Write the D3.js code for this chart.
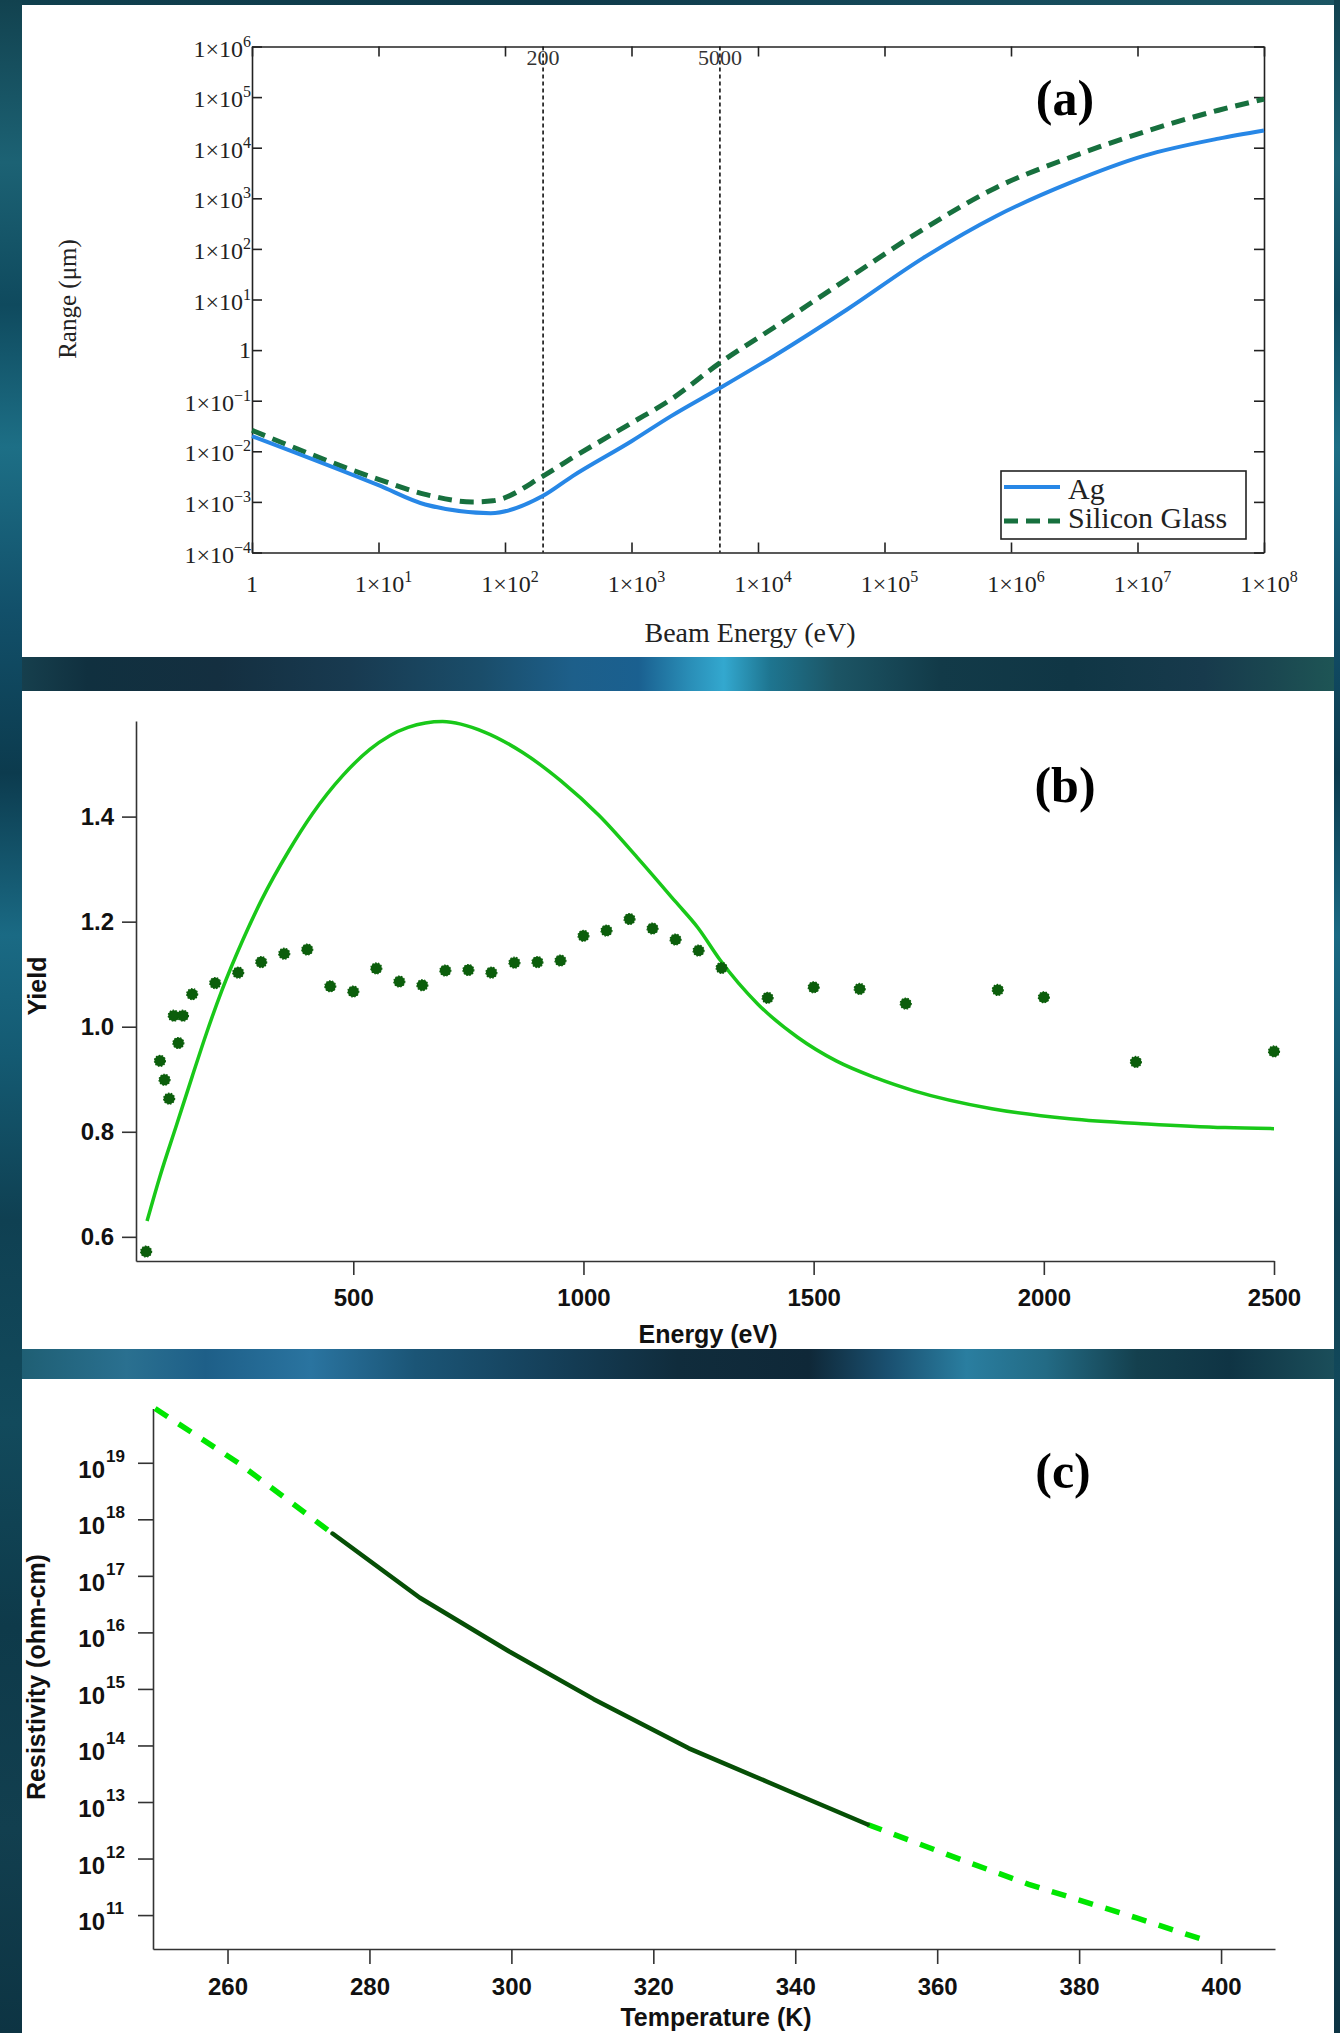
<!DOCTYPE html>
<html>
<head>
<meta charset="utf-8">
<title>Range, yield and resistivity</title>
<script src="https://cdn.jsdelivr.net/npm/d3@7"></script>
<style>
  body { margin: 0; background: #0f3645; }
  svg { display: block; }
</style>
</head>
<body>
<script>
"use strict";

// ---- (a) electron range vs beam energy ----
var agEnergy    = [1, 10, 23.4, 77, 200, 340, 1000, 2040, 5000, 13400, 51300, 2.0e5, 7.6e5, 2.95e6, 1.12e7, 4.37e7, 1e8];
var agRange     = [0.020, 0.00214, 8.9e-4, 6.0e-4, 1.32e-3, 3.2e-3, 0.0158, 0.049, 0.178, 0.767, 6.5, 65, 443, 2040, 6900, 15100, 21900];
var glassEnergy = [1, 10, 23.4, 55, 80, 200, 340, 1000, 2040, 5000, 13400, 51300, 2.0e5, 7.6e5, 2.95e6, 1.12e7, 4.37e7, 1e8];
var glassRange  = [0.026, 0.00279, 0.00141, 0.00100, 0.00105, 0.00324, 0.0074, 0.0363, 0.105, 0.56, 2.8, 26, 240, 1620, 6460, 20400, 55000, 91000];
var refEnergies = [200, 5000];
var rangeTicksX = [1, 1e1, 1e2, 1e3, 1e4, 1e5, 1e6, 1e7, 1e8];
var rangeTicksY = [1e-4, 1e-3, 1e-2, 1e-1, 1, 1e1, 1e2, 1e3, 1e4, 1e5, 1e6];
var legendNames = ["Ag", "Silicon Glass"];

// ---- (b) yield vs energy ----
var fitEnergy = [52, 80, 115, 150, 182, 215, 260, 300, 360, 411, 477, 536, 619, 694, 785, 868, 951, 1034, 1117, 1200, 1249, 1296, 1380, 1465, 1549, 1634, 1718, 1887, 2056, 2225, 2394, 2500];
var fitYield  = [0.630, 0.715, 0.810, 0.905, 0.990, 1.070, 1.165, 1.240, 1.335, 1.405, 1.478, 1.528, 1.570, 1.581, 1.561, 1.522, 1.468, 1.402, 1.322, 1.238, 1.188, 1.128, 1.042, 0.980, 0.935, 0.903, 0.878, 0.844, 0.825, 0.815, 0.808, 0.806];
var measEnergy = [50, 80, 90, 100, 110, 120, 130, 150, 200, 250, 300, 350, 400, 450, 500, 550, 600, 650, 700, 750, 800, 850, 900, 950, 1000, 1050, 1100, 1150, 1200, 1250, 1300, 1400, 1500, 1600, 1700, 1900, 2000, 2200, 2500];
var measYield  = [0.572, 0.935, 0.899, 0.863, 1.021, 0.969, 1.021, 1.062, 1.083, 1.103, 1.123, 1.139, 1.147, 1.077, 1.067, 1.111, 1.086, 1.079, 1.107, 1.108, 1.103, 1.122, 1.123, 1.126, 1.173, 1.183, 1.205, 1.187, 1.166, 1.145, 1.112, 1.055, 1.075, 1.072, 1.044, 1.070, 1.056, 0.933, 0.953];
var yieldTicksX = [500, 1000, 1500, 2000, 2500];
var yieldTicksY = [0.6, 0.8, 1.0, 1.2, 1.4];

// ---- (c) resistivity vs temperature ----
var tempLow   = [249.8, 261.5, 274.8];
var rhoLow    = [9.1e19, 1.0e19, 5.6e17];
var tempMeas  = [274.8, 287.1, 299.7, 311.6, 325.0, 340.0, 350.2];
var rhoMeas   = [5.6e17, 4.1e16, 4.6e15, 6.6e14, 8.9e13, 1.4e13, 4.0e12];
var tempHigh  = [350.2, 363.6, 372.9, 388.1, 397.4];
var rhoHigh   = [4.0e12, 9.3e11, 3.5e11, 8.9e10, 3.7e10];
var tempTicks = [260, 280, 300, 320, 340, 360, 380, 400];
var rhoTicks  = [1e11, 1e12, 1e13, 1e14, 1e15, 1e16, 1e17, 1e18, 1e19];

var SERIF = "'Liberation Serif', 'Times New Roman', serif";
var SANS = "'Liberation Sans', Arial, sans-serif";

var svg = d3.select("body").append("svg")
  .attr("width", 1340)
  .attr("height", 2033);

// ---------- background ----------
var defs = svg.append("defs");
function gradient(id, vertical, stops) {
  var g = defs.append("linearGradient").attr("id", id)
    .attr("x1", 0).attr("y1", 0)
    .attr("x2", vertical ? 0 : 1).attr("y2", vertical ? 1 : 0);
  stops.forEach(function(s) {
    g.append("stop").attr("offset", s[0]).attr("stop-color", s[1]);
  });
}
gradient("side", true, [[0, "#12424f"], [0.08, "#1c6274"], [0.15, "#0f4a5e"], [0.22, "#1d6f86"], [0.3, "#12506a"],
  [0.38, "#0c3b4e"], [0.46, "#1a6a84"], [0.52, "#145a72"], [0.6, "#0f4052"], [0.7, "#124a5c"], [0.8, "#0e3a4a"], [0.9, "#123f4f"], [1, "#0d3443"]]);
gradient("band1", false, [[0, "#163f4d"], [0.05, "#10303f"], [0.15, "#142f40"], [0.25, "#183a50"], [0.35, "#1a4d6a"],
  [0.42, "#1d5f8a"], [0.47, "#1a6090"], [0.51, "#2a8fb8"], [0.535, "#33a8cf"], [0.57, "#1e7590"], [0.62, "#1c5565"],
  [0.7, "#123a48"], [0.8, "#103645"], [0.9, "#173a4c"], [0.95, "#1a4650"], [1, "#1e5555"]]);
gradient("band2", false, [[0, "#1f5f74"], [0.08, "#2a7090"], [0.14, "#1e5f88"], [0.22, "#2a74a0"], [0.3, "#1b5576"],
  [0.4, "#15405a"], [0.5, "#102c3c"], [0.6, "#0f2838"], [0.66, "#1a5070"], [0.72, "#2a7ea0"], [0.78, "#236b85"],
  [0.85, "#14404e"], [0.92, "#0f3444"], [1, "#1b4e5a"]]);
gradient("top", false, [[0, "#10404e"], [0.4, "#0f3a4a"], [0.7, "#15495a"], [1, "#1b5563"]]);

svg.append("rect").attr("width", 1340).attr("height", 2033).attr("fill", "#0f3645");
svg.append("rect").attr("width", 22).attr("height", 2033).attr("fill", "url(#side)");
svg.append("rect").attr("x", 1334).attr("width", 6).attr("height", 2033).attr("fill", "url(#side)");
svg.append("rect").attr("x", 22).attr("width", 1312).attr("height", 5).attr("fill", "url(#top)");
svg.append("rect").attr("x", 22).attr("y", 657).attr("width", 1312).attr("height", 34).attr("fill", "url(#band1)");
svg.append("rect").attr("x", 22).attr("y", 1349).attr("width", 1312).attr("height", 30).attr("fill", "url(#band2)");

[[5, 657], [691, 1349], [1379, 2033]].forEach(function(p) {
  svg.append("rect").attr("x", 22).attr("y", p[0]).attr("width", 1312).attr("height", p[1] - p[0]).attr("fill", "#fff");
});

function styleAxis(g, color, w) {
  g.select(".domain").attr("stroke", color).attr("stroke-width", w);
  g.selectAll(".tick line").attr("stroke", color).attr("stroke-width", w);
}

// =============== (a) ===============
var pa = svg.append("g");
var xa = d3.scaleLog().domain([1, 1e8]).range([252, 1264]);
var ya = d3.scaleLog().domain([1e-4, 1e6]).range([552.5, 46.5]);

pa.append("g").attr("transform", "translate(0,552.5)")
  .call(d3.axisBottom(xa).tickValues(rangeTicksX).tickSizeInner(-10).tickSizeOuter(0).tickFormat(""))
  .call(styleAxis, "#222", 1.6);
pa.append("g").attr("transform", "translate(0,46.5)")
  .call(d3.axisTop(xa).tickValues(rangeTicksX).tickSizeInner(-10).tickSizeOuter(0).tickFormat(""))
  .call(styleAxis, "#222", 1.6);
pa.append("g").attr("transform", "translate(252,0)")
  .call(d3.axisLeft(ya).tickValues(rangeTicksY).tickSizeInner(-10).tickSizeOuter(0).tickFormat(""))
  .call(styleAxis, "#222", 1.6);
pa.append("g").attr("transform", "translate(1264,0)")
  .call(d3.axisRight(ya).tickValues(rangeTicksY).tickSizeInner(-10).tickSizeOuter(0).tickFormat(""))
  .call(styleAxis, "#222", 1.6);

function sciLabel(sel, d) {
  var e = Math.round(Math.log10(d));
  if (e === 0) { sel.text("1"); return; }
  sel.text("1\u00d710");
  sel.append("tspan").attr("dy", -10).attr("font-size", 16)
    .text(e < 0 ? "\u2212" + (-e) : String(e));
}

pa.selectAll("text.ylab").data(rangeTicksY).enter().append("text")
  .attr("x", 251)
  .attr("y", function(d) { return ya(d) + (d === 1 ? 8 : 10); })
  .attr("text-anchor", "end")
  .attr("font-family", SERIF).attr("font-size", 24).attr("fill", "#222")
  .each(function(d) { sciLabel(d3.select(this), d); });

pa.selectAll("text.xlab").data(rangeTicksX).enter().append("text")
  .attr("x", function(d) { return xa(d) + (d === 1 ? 0 : 5); })
  .attr("y", 592)
  .attr("text-anchor", "middle")
  .attr("font-family", SERIF).attr("font-size", 24).attr("fill", "#222")
  .each(function(d) { sciLabel(d3.select(this), d); });

// reference energies
pa.selectAll("line.ref").data(refEnergies).enter().append("line")
  .attr("x1", function(d) { return xa(d); }).attr("x2", function(d) { return xa(d); })
  .attr("y1", 46.5).attr("y2", 552.5)
  .attr("stroke", "#111").attr("stroke-width", 1.6).attr("stroke-dasharray", "4,3");
pa.selectAll("text.ref").data(refEnergies).enter().append("text")
  .attr("x", function(d) { return xa(d); }).attr("y", 65)
  .attr("text-anchor", "middle")
  .attr("font-family", SERIF).attr("font-size", 22).attr("fill", "#333")
  .text(function(d) { return d; });

var lineA = d3.line()
  .x(function(d) { return xa(d[0]); })
  .y(function(d) { return ya(d[1]); })
  .curve(d3.curveMonotoneX);

pa.append("path").datum(d3.zip(glassEnergy, glassRange))
  .attr("d", lineA).attr("fill", "none")
  .attr("stroke", "#17703e").attr("stroke-width", 5).attr("stroke-dasharray", "14,8");
pa.append("path").datum(d3.zip(agEnergy, agRange))
  .attr("d", lineA).attr("fill", "none")
  .attr("stroke", "#2787e6").attr("stroke-width", 4);

// legend
var lg = pa.append("g");
lg.append("rect").attr("x", 1001).attr("y", 471).attr("width", 245).attr("height", 68)
  .attr("fill", "#fff").attr("stroke", "#222").attr("stroke-width", 1.6);
lg.append("line").attr("x1", 1004).attr("x2", 1060).attr("y1", 487).attr("y2", 487)
  .attr("stroke", "#2787e6").attr("stroke-width", 4);
lg.append("line").attr("x1", 1004).attr("x2", 1060).attr("y1", 521).attr("y2", 521)
  .attr("stroke", "#17703e").attr("stroke-width", 5).attr("stroke-dasharray", "14,8");
lg.selectAll("text").data(legendNames).enter().append("text")
  .attr("x", 1068).attr("y", function(d, i) { return i ? 528 : 499; })
  .attr("font-family", SERIF).attr("font-size", 30).attr("fill", "#222")
  .text(function(d) { return d; });

pa.append("text").attr("transform", "translate(76,299) rotate(-90)")
  .attr("text-anchor", "middle").attr("font-family", SERIF).attr("font-size", 25).attr("fill", "#222")
  .text("Range (\u03bcm)");
pa.append("text").attr("x", 750).attr("y", 642)
  .attr("text-anchor", "middle").attr("font-family", SERIF).attr("font-size", 28).attr("fill", "#222")
  .text("Beam Energy (eV)");
pa.append("text").attr("x", 1065).attr("y", 115)
  .attr("text-anchor", "middle").attr("font-family", SERIF).attr("font-weight", "bold").attr("font-size", 50)
  .text("(a)");

// =============== (b) ===============
var pb = svg.append("g");
var xb = d3.scaleLinear().domain([28, 2500]).range([136, 1274]);
var yb = d3.scaleLinear().domain([0.554, 1.582]).range([1261, 721]);

var gxb = pb.append("g").attr("transform", "translate(0,1261)")
  .call(d3.axisBottom(xb).tickValues(yieldTicksX).tickSizeInner(14).tickSizeOuter(0).tickPadding(14).tickFormat(d3.format("d")));
var gyb = pb.append("g").attr("transform", "translate(136,0)")
  .call(d3.axisLeft(yb).tickValues(yieldTicksY).tickSizeInner(14).tickSizeOuter(0).tickPadding(8).tickFormat(d3.format(".1f")));
[gxb, gyb].forEach(function(g) {
  g.call(styleAxis, "#333", 1.6);
  g.selectAll(".tick text").attr("font-family", SANS).attr("font-weight", "bold").attr("font-size", 24).attr("fill", "#111");
});

var lineB = d3.line()
  .x(function(d) { return xb(d[0]); })
  .y(function(d) { return yb(d[1]); })
  .curve(d3.curveMonotoneX);
pb.append("path").datum(d3.zip(fitEnergy, fitYield))
  .attr("d", lineB).attr("fill", "none")
  .attr("stroke", "#19c819").attr("stroke-width", 3.5);

pb.selectAll("circle").data(d3.zip(measEnergy, measYield)).enter().append("circle")
  .attr("cx", function(d) { return xb(d[0]); })
  .attr("cy", function(d) { return yb(d[1]); })
  .attr("r", 5.5)
  .attr("fill", "#0b5e0b")
  .attr("stroke", "#0b5e0b").attr("stroke-width", 1.2).attr("stroke-dasharray", "1.5,1.5");

pb.append("text").attr("transform", "translate(46,986) rotate(-90)")
  .attr("text-anchor", "middle").attr("font-family", SANS).attr("font-weight", "bold").attr("font-size", 25).attr("fill", "#111")
  .text("Yield");
pb.append("text").attr("x", 708).attr("y", 1343)
  .attr("text-anchor", "middle").attr("font-family", SANS).attr("font-weight", "bold").attr("font-size", 25).attr("fill", "#111")
  .text("Energy (eV)");
pb.append("text").attr("x", 1065).attr("y", 802)
  .attr("text-anchor", "middle").attr("font-family", SERIF).attr("font-weight", "bold").attr("font-size", 50)
  .text("(b)");

// =============== (c) ===============
var pc = svg.append("g");
var xc = d3.scaleLinear().domain([249.5, 407.6]).range([153, 1275]);
var yc = d3.scaleLog().domain([Math.pow(10, 10.40), Math.pow(10, 19.96)]).range([1949, 1408.5]);

var gxc = pc.append("g").attr("transform", "translate(0,1949)")
  .call(d3.axisBottom(xc).tickValues(tempTicks).tickSizeInner(15).tickSizeOuter(0).tickPadding(14));
gxc.selectAll(".tick text").attr("font-family", SANS).attr("font-weight", "bold").attr("font-size", 24).attr("fill", "#111");
gxc.call(styleAxis, "#333", 1.6);
var gyc = pc.append("g").attr("transform", "translate(153,0)")
  .call(d3.axisLeft(yc).tickValues(rhoTicks).tickSizeInner(15).tickSizeOuter(0).tickFormat(""));
gyc.call(styleAxis, "#333", 1.6);

pc.selectAll("text.base").data(rhoTicks).enter().append("text")
  .attr("x", 105).attr("y", function(d) { return yc(d) + 15; })
  .attr("text-anchor", "end")
  .attr("font-family", SANS).attr("font-weight", "bold").attr("font-size", 24).attr("fill", "#111")
  .text("10");
pc.selectAll("text.expo").data(rhoTicks).enter().append("text")
  .attr("x", 106).attr("y", function(d) { return yc(d) - 1; })
  .attr("font-family", SANS).attr("font-weight", "bold").attr("font-size", 17).attr("fill", "#111")
  .text(function(d) { return Math.round(Math.log10(d)); });

var lineC = d3.line()
  .x(function(d) { return xc(d[0]); })
  .y(function(d) { return yc(d[1]); });

pc.append("path").datum(d3.zip(tempLow, rhoLow))
  .attr("d", lineC).attr("fill", "none")
  .attr("stroke", "#00e600").attr("stroke-width", 5.5).attr("stroke-dasharray", "15,13");
pc.append("path").datum(d3.zip(tempHigh, rhoHigh))
  .attr("d", lineC).attr("fill", "none")
  .attr("stroke", "#00e600").attr("stroke-width", 5.5).attr("stroke-dasharray", "15,13");
pc.append("path").datum(d3.zip(tempMeas, rhoMeas))
  .attr("d", lineC).attr("fill", "none")
  .attr("stroke", "#064f06").attr("stroke-width", 4.5).attr("stroke-linecap", "round").attr("stroke-linejoin", "round");

pc.append("text").attr("transform", "translate(45,1677) rotate(-90)")
  .attr("text-anchor", "middle").attr("font-family", SANS).attr("font-weight", "bold").attr("font-size", 25).attr("fill", "#111")
  .text("Resistivity (ohm-cm)");
pc.append("text").attr("x", 716).attr("y", 2026)
  .attr("text-anchor", "middle").attr("font-family", SANS).attr("font-weight", "bold").attr("font-size", 25).attr("fill", "#111")
  .text("Temperature (K)");
pc.append("text").attr("x", 1063).attr("y", 1488)
  .attr("text-anchor", "middle").attr("font-family", SERIF).attr("font-weight", "bold").attr("font-size", 50)
  .text("(c)");
</script>
</body>
</html>
